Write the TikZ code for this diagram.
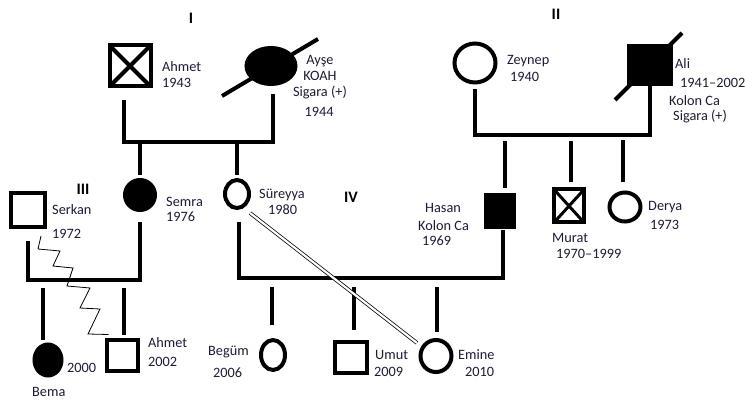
\documentclass[tikz,border=0pt]{standalone}
\usepackage{fontspec}
\setmainfont{Carlito}
\usetikzlibrary{shapes.geometric}
\definecolor{txt}{RGB}{28,28,52}
\newcommand\lbfont{\fontsize{14.3}{16}\selectfont}
\newcommand\genfont{\fontsize{16}{18}\selectfont\bfseries}
\tikzset{
  kin/.style={line width=4pt},
  male/.style args={#1/#2}{draw, rectangle, line width=4pt, inner sep=0pt, minimum width=#1, minimum height=#2},
  female/.style args={#1/#2}{draw, ellipse, line width=4pt, inner sep=0pt, minimum width=#1, minimum height=#2},
  affected/.style={fill=black},
  dead/.style={line width=4pt},
  lbl/.style={anchor=west, inner sep=0pt, font=\lbfont, text=txt},
  gen/.style={inner sep=0pt, font=\genfont},
  zig/.style={line width=0.8pt},
  consang/.style={double, double distance=2.2pt, line width=0.75pt}
}
\begin{document}
\begin{tikzpicture}[x=1pt, y=-1pt]
  \useasboundingbox (0,0) rectangle (745,401);
  \node[gen] (g1) at (191,18) {I};
  \node[gen] (g2) at (556,14) {II};
  \node[gen] (g3) at (83,189) {III};
  \node[gen] (g4) at (351,197) {IV};
  \node[male=41pt/41pt] (ahmetI) at (130,66) {};
  \draw[dead] ([shift={(2pt,-2pt)}]ahmetI.north west) -- ([shift={(-2pt,2pt)}]ahmetI.south east)
    ([shift={(-2pt,-2pt)}]ahmetI.north east) -- ([shift={(2pt,2pt)}]ahmetI.south west);
  \node[female=49pt/36pt, affected] (ayse) at (271,66) {};
  \draw[dead] ([shift={(-49pt,-30pt)}]ayse.center) -- ([shift={(47pt,27pt)}]ayse.center);
  \node[female=41pt/39pt] (zeynep) at (475,63) {};
  \node[male=42pt/38pt, affected] (ali) at (650,65) {};
  \draw[dead] ([shift={(-35pt,-35pt)}]ali.center) -- ([shift={(32pt,32pt)}]ali.center);
  \node[male=34pt/34pt] (serkan) at (28,210) {};
  \node[female=30pt/30pt, affected] (semra) at (140,195) {};
  \node[female=24pt/28pt] (sureyya) at (237,194) {};
  \node[male=28pt/32pt, affected] (hasan) at (500,211) {};
  \node[male=30pt/33pt] (murat) at (569,206) {};
  \draw[line width=3pt] ([shift={(2pt,-2pt)}]murat.north west) -- ([shift={(-2pt,2pt)}]murat.south east)
    ([shift={(-2pt,-2pt)}]murat.north east) -- ([shift={(2pt,2pt)}]murat.south west);
  \node[female=31pt/29pt] (derya) at (625,207) {};
  \node[female=27pt/31pt, affected] (berna) at (48,360) {};
  \node[male=31pt/31pt] (ahmetIII) at (122,355) {};
  \node[female=24pt/30pt] (begum) at (273,355) {};
  \node[male=32pt/31pt] (umut) at (351,357) {};
  \node[female=31pt/32pt] (emine) at (436,356) {};
  \coordinate (m1) at (200,142);
  \coordinate (m2) at (560,135);
  \coordinate (m3) at (85,280);
  \coordinate (m4) at (370,278);
  \draw[kin] ([xshift=-6pt,yshift=-12pt]ahmetI.south) |- (m1) -| ([xshift=2pt,yshift=-8pt]ayse.south);
  \draw[kin] (semra.north |- m1) -- ([yshift=3pt]semra.north);
  \draw[kin] (sureyya.north |- m1) -- ([yshift=3pt]sureyya.north);
  \draw[kin] ([yshift=-5pt]zeynep.south) |- (m2) -| (ali.south);
  \draw[kin] ([xshift=5pt]hasan.north |- 0,141) -- ([xshift=5pt,yshift=5pt]hasan.north);
  \draw[kin] ([xshift=2pt]murat.north |- 0,141) -- ([xshift=2pt,yshift=5pt]murat.north);
  \draw[kin] ([xshift=-2pt]derya.north |- 0,140) -- ([xshift=-2pt,yshift=8pt]derya.north);
  \draw[kin] ([yshift=-12pt]serkan.south) |- (m3) -| ([yshift=-10pt]semra.south);
  \draw[kin] ([xshift=-5pt]berna.north |- 0,288) -- ([xshift=-5pt,yshift=3pt]berna.north);
  \draw[kin] ([xshift=2pt]ahmetIII.north |- 0,288) -- ([xshift=2pt,yshift=3pt]ahmetIII.north);
  \draw[zig] ([xshift=13pt,yshift=-7pt]serkan.south) -- ++(-3,13) -- ++(22,2) -- ++(-7,15) -- ++(20,2)
    -- ++(-6,18) -- ++(23,2) -- ++(-10,20) -- ++(20,1) -- ++(-12,25) -- ([xshift=4pt,yshift=3pt]ahmetIII.north west);
  \draw[kin] ([xshift=2pt,yshift=-12pt]sureyya.south) |- (m4) -| ([xshift=3pt,yshift=-1pt]hasan.south);
  \draw[kin] ([xshift=-1pt]begum.north |- 0,287) -- ([xshift=-1pt,yshift=13pt]begum.north);
  \draw[kin] ([xshift=3pt]umut.north |- 0,287) -- ([xshift=3pt,yshift=10pt]umut.north);
  \draw[kin] ([xshift=1pt]emine.north |- 0,287) -- ([xshift=1pt,yshift=6pt]emine.north);
  \draw[consang] ([shift={(13pt,-19pt)}]sureyya.center) -- ([shift={(-19pt,13pt)}]emine.center);
  \node[lbl] (ahmetIa) at (162,67) {Ahmet};
  \node[lbl] (ahmetIb) at (162,83) {1943};
  \node[lbl, anchor=center, align=center] (aysea) at (320,77) {Ayşe\\KOAH\\Sigara (+)};
  \node[lbl, anchor=center] (ayseb) at (319,112) {1944};
  \node[lbl] (zeynepa) at (507,61) {Zeynep};
  \node[lbl] (zeynepb) at (510,77) {1940};
  \node[lbl] (alia) at (675,64) {Ali};
  \node[lbl] (alib) at (680,83) {1941–2002};
  \node[lbl] (alic) at (669,101) {Kolon Ca};
  \node[lbl] (alid) at (673,117) {Sigara (+)};
  \node[lbl] (serkana) at (52,210) {Serkan};
  \node[lbl] (serkanb) at (52,234) {1972};
  \node[lbl] (semraa) at (166,202) {Semra};
  \node[lbl] (semrab) at (166,217) {1976};
  \node[lbl] (sureyyaa) at (259,195) {Süreyya};
  \node[lbl] (sureyyab) at (268,210) {1980};
  \node[lbl] (hasana) at (425,208) {Hasan};
  \node[lbl] (hasanb) at (418,226) {Kolon Ca};
  \node[lbl] (hasanc) at (422,241) {1969};
  \node[lbl] (murata) at (552,238) {Murat};
  \node[lbl] (muratb) at (556,254) {1970–1999};
  \node[lbl] (deryaa) at (648,207) {Derya};
  \node[lbl] (deryab) at (650,225) {1973};
  \node[lbl] (bernaa) at (67,368) {2000};
  \node[lbl] (bernab) at (32,392) {Bema};
  \node[lbl] (ahmetIIIa) at (148,343) {Ahmet};
  \node[lbl] (ahmetIIIb) at (148,362) {2002};
  \node[lbl] (beguma) at (208,352) {Begüm};
  \node[lbl] (begumb) at (213,373) {2006};
  \node[lbl] (umuta) at (375,355) {Umut};
  \node[lbl] (umutb) at (374,372) {2009};
  \node[lbl] (eminea) at (458,355) {Emine};
  \node[lbl] (emineb) at (465,372) {2010};
\end{tikzpicture}
\end{document}
